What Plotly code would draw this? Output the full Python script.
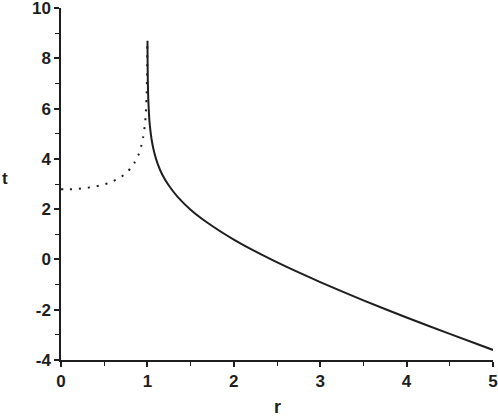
import plotly.graph_objects as go

# values
r_dotted = [0.0, 0.1, 0.2, 0.3, 0.4, 0.5, 0.6, 0.7, 0.8, 0.85, 0.9, 0.93, 0.95,
            0.97, 0.98, 0.99, 0.995, 0.998, 0.999]
t_dotted = [2.79, 2.79, 2.81, 2.85, 2.90, 2.98, 3.11, 3.29, 3.60, 3.84, 4.19, 4.52, 4.84,
            5.33, 5.72, 6.41, 7.09, 8.01, 8.70]

r_solid = [1.001, 1.002, 1.005, 1.01, 1.02, 1.03, 1.05, 1.08, 1.12, 1.17, 1.25, 1.35,
           1.5, 1.7, 2.0, 2.3, 2.6, 3.0, 3.5, 4.0, 4.5, 5.0]
t_solid = [8.70, 8.00, 7.10, 6.39, 5.68, 5.27, 4.74, 4.24, 3.79, 3.39, 2.93, 2.49,
           1.98, 1.45, 0.79, 0.23, -0.28, -0.90, -1.63, -2.31, -2.96, -3.60]

x_ticks = [0, 1, 2, 3, 4, 5]
x_labels = ["0", "1", "2", "3", "4", "5"]
y_ticks = [-4, -2, 0, 2, 4, 6, 8, 10]
y_labels = ["-4", "-2", "0", "2", "4", "6", "8", "10"]

ink = "#1e1e1e"
tick_font = dict(family="Liberation Sans", size=17, color=ink, weight="bold")

fig = go.Figure()
fig.add_trace(go.Scatter(x=r_dotted, y=t_dotted, mode="lines", cliponaxis=False,
                         line=dict(color=ink, width=2, dash="2px,7px", shape="spline", smoothing=0.6)))
fig.add_trace(go.Scatter(x=r_solid, y=t_solid, mode="lines", cliponaxis=False,
                         line=dict(color=ink, width=2, shape="spline", smoothing=0.6)))

axis_common = dict(showgrid=False, zeroline=False, automargin=False,
                   showline=True, linecolor=ink, linewidth=1.5,
                   ticks="outside", ticklen=5, tickwidth=1.5, tickcolor=ink,
                   tickfont=tick_font, ticklabeloverflow="allow")

fig.update_layout(
    width=498, height=418,
    margin=dict(l=61, r=5, t=8, b=58),
    paper_bgcolor="white", plot_bgcolor="white",
    showlegend=False,
    xaxis=dict(range=[0, 5], tickvals=x_ticks, ticktext=x_labels,
               minor=dict(dtick=0.5, ticks="outside", ticklen=4, tickwidth=1.2, tickcolor=ink),
               **axis_common),
    yaxis=dict(range=[-4, 10], tickvals=y_ticks, ticktext=y_labels,
               minor=dict(dtick=1, ticks="outside", ticklen=4, tickwidth=1.2, tickcolor=ink),
               **axis_common),
    annotations=[
        dict(text="r", x=277, y=407, xref="paper", yref="paper", showarrow=False,
             xanchor="center", yanchor="middle",
             font=dict(family="Liberation Sans", size=18, color=ink, weight="bold")),
        dict(text="t", x=5, y=178, xref="paper", yref="paper", showarrow=False,
             xanchor="center", yanchor="middle",
             font=dict(family="Liberation Sans", size=17, color=ink, weight="bold")),
    ],
)

# place axis-title annotations in pixel terms
W, H = 498, 418
pl, pr, pt, pb = 61, 5, 8, 58
for a in fig.layout.annotations:
    a.x = (a.x - pl) / (W - pl - pr)
    a.y = 1 - (a.y - pt) / (H - pt - pb)

fig.write_html("out.html", config={"displayModeBar": False},
               post_script="document.body.style.margin='0';")
